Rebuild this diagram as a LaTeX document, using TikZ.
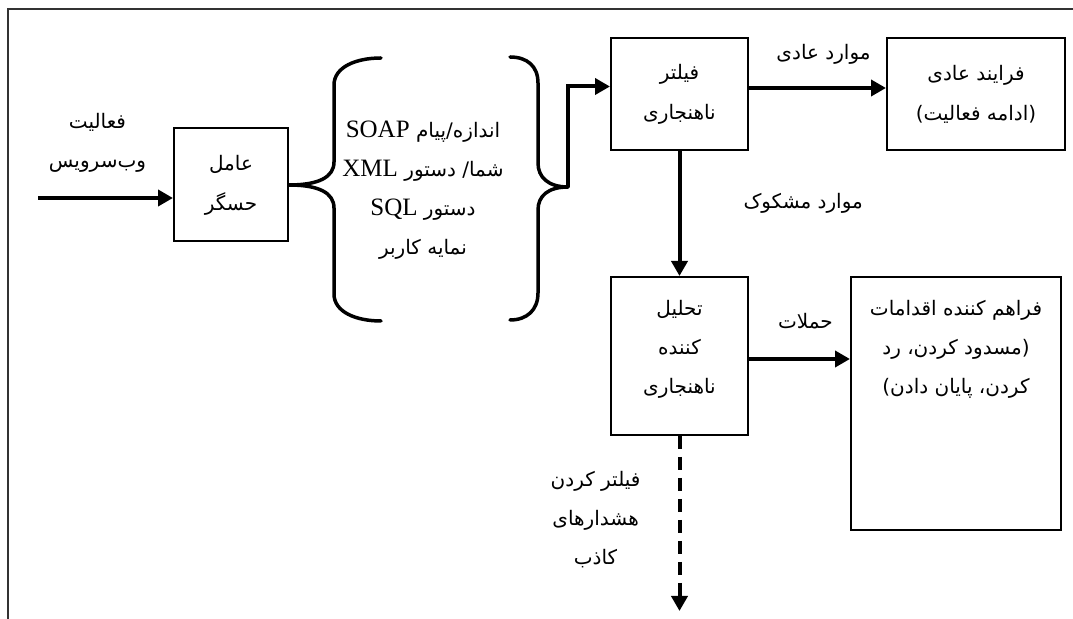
\documentclass[tikz,border=0pt]{standalone}
\usepackage{fontspec}
\setmainfont{Liberation Serif}
\newfontfamily\persianfont[Script=Arabic]{DejaVu Sans}
\TeXXeTstate=1
\usepackage{tikz}
\usetikzlibrary{arrows.meta, positioning}
\newcommand{\fatxt}[1]{{\persianfont\beginR #1\endR}}
\newcommand{\lat}[1]{{\rmfamily\fontsize{12.5pt}{19.5pt}\selectfont\beginL #1\endL}}
\tikzset{
  box/.style={rectangle, draw, line width=1pt, align=center, font=\fontsize{10pt}{20pt}\selectfont, inner sep=2pt},
  lbl/.style={align=center, font=\fontsize{10pt}{19.5pt}\selectfont, inner sep=1pt},
  arr/.style={-{Triangle[length=7.5pt, width=8pt]}, line width=2pt},
  dasharr/.style={arr, dash pattern=on 6.5pt off 4pt},
  brc/.style={line width=1.75pt, line cap=round},
  frame/.style={line width=1pt, black!80},
}

\begin{document}
\begin{tikzpicture}[x=0.5pt, y=-0.5pt]
\useasboundingbox (0,0) rectangle (1073,619);
\draw[frame] (8,640) |- (1090,9);

\node[box, minimum width=57pt, minimum height=56.5pt] (sensor) at (231,185) {\fatxt{عامل}\\\fatxt{حسگر}};
\node[lbl] (feat) at (423,190) {\fatxt{اندازه\kern0pt/\kern0pt پیام \lat{SOAP}}\\\fatxt{شما\kern0pt/ دستور \lat{XML}}\\\fatxt{دستور \lat{SQL}}\\\fatxt{نمایه کاربر}};
\node[box, minimum width=68.5pt, minimum height=56pt] (filt) at (679.5,94) {\fatxt{فیلتر}\\\fatxt{ناهنجاری}};
\node[box, minimum width=89pt, minimum height=56pt, right=68.5pt of filt] (normal) {\fatxt{فرایند عادی}\\\fatxt{(ادامه فعالیت)}};
\node[box, minimum width=68.5pt, minimum height=79pt, below=62.5pt of filt] (analyzer) {};
\node[lbl] (analyzertxt) at ([yshift=3.5pt]analyzer.center) {\fatxt{تحلیل}\\\fatxt{کننده}\\\fatxt{ناهنجاری}};
\node[box, minimum width=105pt, minimum height=126.5pt, below right=0pt and 50.5pt of analyzer.north east] (actions) {};
\node[lbl, below=11pt of actions.north] (actionstxt) {\fatxt{فراهم کننده اقدامات}\\\fatxt{(مسدود کردن، رد}\\\fatxt{کردن، پایان دادن)}};

\coordinate (in) at (38,198);
\coordinate (ltip) at (sensor.east);
\coordinate (rtip) at (568,187);
\coordinate[below=87.5pt of analyzer.south] (fout);

% braces around the feature list
\draw[brc] (ltip) .. controls +(30,0) and +(0,15) .. ++(45,-23) -- ++(0,-77) .. controls +(0,-18) and +(-25,0) .. ++(47,-27);
\draw[brc] (ltip) .. controls +(30,0) and +(0,-15) .. ++(45,23) -- ++(0,86) .. controls +(0,18) and +(-25,0) .. ++(47,27);
\draw[brc] (rtip) .. controls +(-20,0) and +(0,14) .. ++(-30,-24) -- ++(0,-80) .. controls +(0,-17) and +(17,0) .. ++(-28,-26);
\draw[brc] (rtip) .. controls +(-20,0) and +(0,-14) .. ++(-30,23) -- ++(0,83) .. controls +(0,17) and +(17,0) .. ++(-28,27);

\draw[arr] (in) -- (in -| sensor.west) node[lbl, midway, above=11pt, xshift=-4pt] (inlbl) {\fatxt{فعالیت}\\\fatxt{وب‌سرویس}};
\draw[arr] (rtip) |- ([yshift=3.75pt]filt.west);
\draw[arr] ([yshift=3pt]filt.east) -- ([yshift=3pt]normal.west) node[lbl, midway, above=10pt, xshift=3pt] (normlbl) {\fatxt{موارد عادی}};
\draw[arr] (filt.south) -- (analyzer.north) node[lbl, pos=0.42, right=30pt] (susplbl) {\fatxt{موارد مشکوک}};
\draw[arr] ([yshift=-1.5pt]analyzer.east) -- ([yshift=-1.5pt]analyzer.east -| actions.west) node[lbl, midway, above=13pt, xshift=3pt] (atklbl) {\fatxt{حملات}};
\draw[dasharr] (analyzer.south) -- (fout) node[lbl, midway, left=17.5pt, yshift=2pt] (falselbl) {\fatxt{فیلتر کردن}\\\fatxt{هشدارهای}\\\fatxt{کاذب}};
\end{tikzpicture}
\end{document}
